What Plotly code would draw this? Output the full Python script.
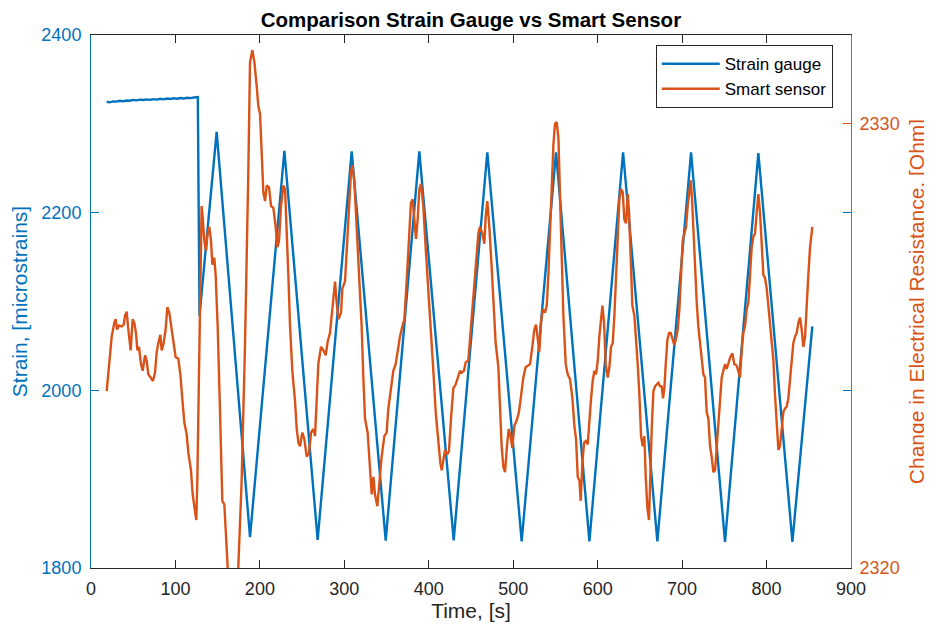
import plotly.graph_objects as go

# ---------------- data ----------------
strain_t = [18.6, 22, 26, 30, 34, 38, 42, 46, 50, 54, 58, 62, 66, 70, 74, 78, 82, 86, 90, 94,
            98, 102, 106, 110, 114, 118, 122, 126.5,
            128.5, 148.8, 188.3, 229.0, 268.4, 308.7, 349.0, 388.8, 429.5, 469.3, 510.0,
            550.7, 590.2, 630.1, 670.7, 710.6, 750.8, 790.3, 830.6, 854.2]
strain_v = [2324.9, 2324.2, 2325.3, 2325.0, 2326.0, 2325.5, 2326.3, 2326.0, 2327.0, 2326.4,
            2327.2, 2326.8, 2327.5, 2327.0, 2327.8, 2327.3, 2328.2, 2327.6, 2328.5, 2328.0,
            2328.8, 2328.3, 2329.0, 2328.6, 2329.4, 2329.0, 2329.6, 2330.0,
            2084, 2291, 1834.7, 2269.7, 1831.6, 2269, 1830.9, 2269, 1831, 2268, 1830,
            2268, 1830, 2268, 1830, 2268, 1829.5, 2267, 1829.5, 2072]

sensor_t = [18.6, 21.3, 24.5, 27.6, 29.2, 30.8, 33.2, 36.3, 38.7, 40.3, 42.2, 44.2, 47.0, 49.3,
            51.3, 53.3, 54.9, 56.8, 59.2, 61.2, 64.0, 65.9, 67.9, 70.6, 73.4, 75.8, 77.8, 79.7,
            82.1, 83.7, 86.0, 88.4, 90.4, 92.7, 95.5, 97.9, 100.2, 103.4, 105.8, 108.1, 110.5,
            113.3, 115.3, 118.4, 120.4, 123.2, 124.7, 125.9, 127.9, 129.5, 131.0, 132.2, 134.2,
            136.2, 138.1, 140.1, 142.1, 143.7, 146.0, 147.6, 150.0, 152.8, 155.5, 157.9, 160.6,
            163.0, 172.0, 174.4, 178.4, 182.4, 186.3, 188.3,
            191.1, 193.5, 196.2, 198.2, 200.2, 202.1, 204.1, 206.1, 208.1, 210.8, 213.2, 215.9,
            218.7, 220.7, 222.7, 225.0, 227.8, 229.8, 231.7, 233.7, 235.7, 238.4, 241.6, 243.6,
            245.6, 247.5, 250.3, 252.7, 255.4, 258.2, 260.6, 263.3, 265.3, 267.3, 269.2, 272.4,
            275.2, 277.9, 280.3, 283.0, 285.0, 287.0, 289.0, 290.9, 292.9, 296.1, 297.6, 300.8,
            302.8, 305.5, 307.9, 309.5, 311.9, 314.6, 317.4, 320.5, 322.5, 324.5, 327.6, 330.4,
            332.4, 334.4, 336.3, 339.1, 341.1, 344.2, 347.4, 350.1, 352.1, 354.9, 358.0, 360.8,
            363.9, 365.9,
            368.7, 371.1, 373.8, 376.6, 378.9, 380.9, 382.9, 384.9, 386.8, 388.8, 390.8, 393.5,
            396.3, 399.5, 402.6, 405.4, 408.2, 411.3, 413.7, 415.3, 417.6, 419.2, 421.6, 423.9,
            426.3, 429.1, 431.8, 434.2, 437.0, 438.9, 441.7, 443.7, 446.8, 448.8, 451.6, 453.9,
            456.7, 458.7, 460.6, 463.4, 465.8, 467.4, 469.3, 471.7, 474.5, 476.8, 479.2, 482.4,
            484.3, 486.3, 488.3, 490.3, 492.6, 494.6, 497.4, 498.9, 501.3, 504.1, 506.8, 509.2,
            512.0, 514.7, 517.1, 519.9, 522.6, 525.0, 527.0, 529.0, 530.9, 532.9, 534.9, 537.6,
            539.7, 541.6, 543.6, 545.6, 547.6, 549.5, 551.5, 553.5, 555.5, 557.4, 559.4, 562.2,
            564.5, 567.3, 570.1, 572.4, 574.4, 576.4, 578.4, 579.9, 581.9, 583.9, 585.9, 588.2,
            590.2, 592.2, 594.1, 596.1, 598.1, 600.1, 602.0, 604.0, 605.6, 607.6, 609.5, 611.9,
            613.9, 615.8, 617.8, 619.8, 621.8, 623.7, 625.7, 627.7, 629.7, 631.6, 633.6, 635.6,
            637.2, 639.1, 641.1, 643.5, 645.5, 647.4, 649.4, 651.4, 653.3, 655.3, 656.9, 658.9,
            660.8, 662.4, 664.0, 666.0, 668.0, 669.9, 671.9, 673.9, 675.8, 677.4, 679.0, 680.6,
            682.6, 684.5, 686.5, 688.9, 690.8, 692.8, 694.8, 696.8, 698.7, 700.7, 702.7, 704.7,
            706.6, 708.6, 710.2, 711.8, 713.3, 715.3, 717.3,
            719.2, 721.2, 723.2, 725.2, 727.1, 729.1, 731.1, 733.1, 735.0, 737.0, 739.0, 741.0,
            742.9, 744.9, 746.9, 748.8, 750.8, 752.8, 754.8, 757.1, 759.5, 761.9, 764.6, 766.6,
            768.6, 770.6, 772.5, 774.5, 776.5, 778.5, 780.4, 782.4, 784.4, 786.3, 788.3, 790.3,
            792.3, 794.2, 796.2, 798.2, 800.2, 802.1, 804.1, 806.1, 808.1, 810.0, 812.0, 814.0,
            815.9, 817.9, 819.9, 821.9, 823.8, 825.8, 827.8, 829.8, 831.7, 833.7, 835.7, 837.7,
            839.6, 841.6, 843.6, 845.6, 847.5, 849.5, 851.5, 854.2]
sensor_v = [2323.98, 2324.48, 2325.21, 2325.52, 2325.60, 2325.37, 2325.46, 2325.44, 2325.48,
            2325.68, 2325.77, 2325.37, 2324.90, 2325.60, 2325.52, 2325.29, 2324.90, 2324.98,
            2324.59, 2324.44, 2324.79, 2324.67, 2324.36, 2324.29, 2324.21, 2324.40, 2324.86,
            2325.06, 2325.25, 2324.90, 2325.06, 2325.37, 2325.87, 2325.75, 2325.37, 2325.06,
            2324.75, 2324.71, 2324.36, 2323.82, 2323.28, 2323.01, 2322.59, 2322.20, 2321.66,
            2321.27, 2321.08, 2321.97, 2324.29, 2326.60, 2328.15, 2327.91, 2327.37, 2327.14,
            2327.53, 2327.68, 2327.37, 2326.83, 2326.99, 2326.60, 2325.44, 2323.51, 2321.51,
            2321.43, 2320.27, 2319.6, 2319.6, 2320.0, 2321.97, 2325.06, 2328.92, 2331.39,
            2331.66, 2331.39, 2330.85, 2330.39, 2330.23, 2329.46, 2328.46, 2328.26, 2328.61,
            2328.57, 2328.15, 2328.11, 2327.68, 2327.22, 2327.37, 2328.15, 2328.61, 2328.53,
            2327.68, 2326.60, 2325.44, 2324.44, 2323.75, 2323.13, 2322.82, 2322.74, 2323.05,
            2322.90, 2322.51, 2322.59, 2323.05, 2323.13, 2322.97, 2323.90, 2324.59, 2324.98,
            2324.90, 2324.79, 2325.10, 2325.29, 2325.68, 2326.22, 2326.45, 2325.98, 2325.60,
            2325.75, 2326.29, 2326.45, 2327.07, 2328.15, 2328.92, 2329.07, 2328.69, 2327.68,
            2326.60, 2325.44, 2324.29, 2323.36, 2323.05, 2322.12, 2321.66, 2322.05, 2321.66,
            2321.39, 2321.81, 2322.51, 2322.97, 2323.05, 2323.59, 2324.05, 2324.44, 2324.59,
            2324.98, 2325.21,
            2325.44, 2325.60, 2326.45, 2327.53, 2328.22, 2328.30, 2327.76, 2327.41, 2327.84,
            2328.53, 2328.65, 2328.15, 2327.22, 2326.29, 2325.37, 2324.44, 2323.51, 2322.74,
            2322.36, 2322.20, 2322.51, 2322.66, 2322.55, 2322.63, 2323.36, 2324.05, 2324.13,
            2324.29, 2324.44, 2324.40, 2324.44, 2324.63, 2324.67, 2325.14, 2325.83, 2326.22,
            2327.07, 2327.53, 2327.68, 2327.53, 2327.30, 2327.91, 2328.26, 2327.68, 2326.76,
            2325.83, 2325.06, 2324.52, 2323.67, 2322.74, 2322.28, 2322.16, 2322.74, 2323.13,
            2322.90, 2322.70, 2323.20, 2323.32, 2323.51, 2323.90, 2324.29, 2324.52, 2324.56,
            2324.59, 2324.98, 2325.37, 2325.48, 2325.14, 2324.87, 2325.52, 2325.83, 2325.75,
            2325.91, 2326.60, 2327.68, 2328.76, 2329.54, 2330.00, 2330.04, 2329.69, 2328.30,
            2326.99, 2325.68, 2324.59, 2324.36, 2324.25, 2323.82, 2323.20, 2322.90, 2322.05,
            2321.97, 2321.51, 2322.36, 2322.82, 2322.86, 2322.78, 2323.36, 2323.82, 2324.21,
            2324.44, 2324.36, 2324.67, 2325.21, 2325.52, 2325.91, 2325.52, 2324.59, 2324.29,
            2324.52, 2324.98, 2325.06, 2325.68, 2326.60, 2327.37, 2328.30, 2328.53, 2328.46,
            2327.84, 2327.76, 2328.42, 2328.00, 2326.99, 2325.91, 2325.68, 2325.21, 2324.59,
            2323.90, 2322.97, 2322.74, 2322.97, 2322.05, 2321.35, 2321.08, 2322.20, 2323.13,
            2323.98, 2324.09, 2324.13, 2324.17, 2324.09, 2324.09, 2323.82, 2324.05, 2324.59,
            2325.14, 2325.29, 2325.29, 2325.14, 2325.02, 2325.17, 2325.37, 2325.83, 2326.60,
            2327.37, 2327.53, 2327.68, 2328.15, 2328.53, 2328.73, 2328.30, 2327.61, 2326.76,
            2325.98,
            2325.44, 2325.06, 2324.67, 2324.36, 2324.29, 2323.51, 2323.36, 2322.74, 2322.51,
            2322.16, 2322.20, 2322.74, 2323.28, 2323.75, 2324.29, 2324.44, 2324.59, 2324.48,
            2324.59, 2324.75, 2324.83, 2324.59, 2324.56, 2324.44, 2324.29, 2324.90, 2325.29,
            2325.44, 2325.83, 2325.98, 2326.60, 2327.22, 2327.46, 2327.53, 2328.00, 2328.42,
            2328.00, 2327.37, 2326.60, 2326.53, 2326.29, 2325.91, 2325.52, 2325.06, 2324.67,
            2323.90, 2323.13, 2322.66, 2322.74, 2323.20, 2323.51, 2323.59, 2323.63, 2323.82,
            2324.29, 2324.75, 2325.06, 2325.21, 2325.29, 2325.52, 2325.64, 2325.37, 2324.98,
            2325.21, 2325.98, 2326.60, 2327.22, 2327.68]

x_ticks = [0, 100, 200, 300, 400, 500, 600, 700, 800, 900]
y_ticks = [1800, 2000, 2200, 2400]
y2_ticks = [2320, 2330]

BLUE = "#0072BD"
ORANGE = "#D95319"
DARK = "#262626"
FONT = "Liberation Sans, Arial, Helvetica, sans-serif"

fig = go.Figure()
fig.add_trace(go.Scatter(x=strain_t, y=strain_v, mode="lines", name="Strain gauge",
                         line=dict(color=BLUE, width=2.4), yaxis="y"))
fig.add_trace(go.Scatter(x=sensor_t, y=sensor_v, mode="lines", name="Smart sensor",
                         line=dict(color=ORANGE, width=2.4), yaxis="y2"))

# the page has an 8px body margin, so the figure is 924x616 and offset by 8px
fig.update_layout(
    width=924, height=616,
    margin=dict(l=83, r=81, t=27, b=56, autoexpand=False),
    paper_bgcolor="white", plot_bgcolor="white",
    font=dict(family=FONT, size=18, color=DARK),
    title=dict(text="<b>Comparison Strain Gauge vs Smart Sensor</b>",
               x=0.501, xanchor="center", y=0.981, yanchor="middle",
               font=dict(family=FONT, size=20.5, color="black")),
    xaxis=dict(range=[0, 900], tickvals=x_ticks, showgrid=False, zeroline=False,
               showline=True, linecolor=DARK, linewidth=1, mirror="ticks",
               ticks="inside", ticklen=8, tickcolor=DARK, automargin=False,
               ticklabelstandoff=4,
               tickfont=dict(size=18, color=DARK),
               title=dict(text="Time, [s]", font=dict(size=21, color=DARK), standoff=0)),
    yaxis=dict(range=[1800, 2400], tickvals=y_ticks, showgrid=False, zeroline=False,
               showline=True, linecolor=BLUE, linewidth=1, mirror="ticks",
               ticks="inside", ticklen=8, tickcolor=BLUE, automargin=False,
               ticklabelstandoff=5,
               tickfont=dict(size=18, color=BLUE),
               title=dict(text="Strain, [microstrains]", font=dict(size=21, color=BLUE),
                          standoff=12)),
    yaxis2=dict(range=[2320, 2332], tickvals=y2_ticks, overlaying="y", side="right",
                showgrid=False, zeroline=False, showline=True, linecolor=ORANGE, linewidth=1,
                ticks="inside", ticklen=8, tickcolor=ORANGE, automargin=False,
                ticklabelstandoff=4,
                tickfont=dict(size=18, color=ORANGE),
                title=dict(text="Change in Electrical Resistance, [Ohm]",
                           font=dict(size=21, color=ORANGE), standoff=10)),
    legend=dict(x=0.976, xanchor="right", y=0.981, yanchor="top",
                bgcolor="white", bordercolor=DARK, borderwidth=1,
                font=dict(size=17, color="black"), tracegroupgap=0,
                itemwidth=58),
    showlegend=True,
)

fig.write_html("out.html")
